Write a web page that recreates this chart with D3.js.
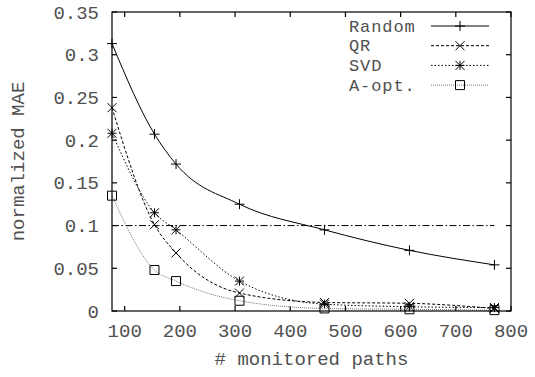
<!DOCTYPE html>
<html>
<head>
<meta charset="utf-8">
<script src="https://cdn.jsdelivr.net/npm/d3@7"></script>
<style>
body { margin: 0; background: #fff; }
text { font-family: "Courier New", "Liberation Mono", monospace; fill: #505050; }
</style>
</head>
<body>
<div id="graph1"></div>
<script>
// data
var paths = [77, 154, 193, 308, 462, 616, 770];
var randomMAE = [0.313, 0.207, 0.172, 0.125, 0.095, 0.071, 0.054];
var qrMAE = [0.238, 0.101, 0.068, 0.021, 0.010, 0.009, 0.003];
var svdMAE = [0.208, 0.115, 0.095, 0.035, 0.008, 0.005, 0.004];
var aoptMAE = [0.135, 0.048, 0.035, 0.012, 0.003, 0.002, 0.001];
var seriesNames = ["Random", "QR", "SVD", "A-opt."];
var xTicks = [100, 200, 300, 400, 500, 600, 700, 800];
var yTicks = [0, 0.05, 0.1, 0.15, 0.2, 0.25, 0.3, 0.35];
var refLineX = [77, 770];
var refLineY = 0.1;

// set the dimensions and margins of the graph
var margin = {top: 12, right: 24, bottom: 66, left: 112},
    width = 535 - margin.left - margin.right,
    height = 377 - margin.top - margin.bottom;

var x = d3.scaleLinear().domain([77, 800]).range([0, width]);
var y = d3.scaleLinear().domain([0, 0.35]).range([height, 0]);

var svg = d3.select("#graph1").append("svg")
    .attr("width", 535)
    .attr("height", 377)
    .append("g")
    .attr("transform", "translate(" + margin.left + "," + margin.top + ")");

var tickLen = 5;

// ticks, mirrored on all four sides (gnuplot style)
svg.selectAll(".xtb").data(xTicks).enter().append("line")
    .attr("x1", function (d) { return x(d); }).attr("x2", function (d) { return x(d); })
    .attr("y1", height).attr("y2", height - tickLen)
    .attr("stroke", "#000").attr("stroke-width", 1.2);
svg.selectAll(".xtt").data(xTicks).enter().append("line")
    .attr("x1", function (d) { return x(d); }).attr("x2", function (d) { return x(d); })
    .attr("y1", 0).attr("y2", tickLen)
    .attr("stroke", "#000").attr("stroke-width", 1.2);
svg.selectAll(".ytl").data(yTicks).enter().append("line")
    .attr("x1", 0).attr("x2", tickLen)
    .attr("y1", function (d) { return y(d); }).attr("y2", function (d) { return y(d); })
    .attr("stroke", "#000").attr("stroke-width", 1.2);
svg.selectAll(".ytr").data(yTicks).enter().append("line")
    .attr("x1", width).attr("x2", width - tickLen)
    .attr("y1", function (d) { return y(d); }).attr("y2", function (d) { return y(d); })
    .attr("stroke", "#000").attr("stroke-width", 1.2);

// tick labels
svg.selectAll(".xl").data(xTicks).enter().append("text")
    .attr("x", function (d) { return x(d); })
    .attr("y", height + 26)
    .attr("text-anchor", "middle")
    .style("font-size", "19px")
    .text(function (d) { return d; });
svg.selectAll(".yl").data(yTicks).enter().append("text")
    .attr("x", -13)
    .attr("y", function (d) { return y(d) + 6.5; })
    .attr("text-anchor", "end")
    .style("font-size", "19px")
    .text(function (d) { return d; });

// axis titles
svg.append("text")
    .attr("x", x(77) + width / 2)
    .attr("y", height + 54)
    .attr("text-anchor", "middle")
    .style("font-size", "19px")
    .text("# monitored paths");
svg.append("text")
    .attr("transform", "translate(" + (24 - margin.left) + "," + (height / 2) + ") rotate(-90)")
    .attr("text-anchor", "middle")
    .style("font-size", "19px")
    .text("normalized MAE");

// 0.1 reference line
svg.append("line")
    .attr("x1", x(refLineX[0])).attr("x2", x(refLineX[1]))
    .attr("y1", y(refLineY)).attr("y2", y(refLineY))
    .attr("stroke", "#000").attr("stroke-width", 1)
    .attr("stroke-dasharray", "7,2.5,1.5,2.5");

// series
var series = [
    {name: seriesNames[0], values: randomMAE, dash: null, color: "#000", marker: "plus"},
    {name: seriesNames[1], values: qrMAE, dash: "3,2", color: "#000", marker: "cross"},
    {name: seriesNames[2], values: svdMAE, dash: "1.5,2", color: "#000", marker: "star"},
    {name: seriesNames[3], values: aoptMAE, dash: "1,1", color: "#777", marker: "box"}
];

var line = d3.line()
    .x(function (d) { return x(d[0]); })
    .y(function (d) { return y(d[1]); })
    .curve(d3.curveMonotoneX);

function markerPath(type, s) {
    var p = d3.path();
    if (type === "plus" || type === "star") {
        p.moveTo(-s, 0); p.lineTo(s, 0);
        p.moveTo(0, -s); p.lineTo(0, s);
    }
    if (type === "cross" || type === "star") {
        p.moveTo(-s, -s); p.lineTo(s, s);
        p.moveTo(-s, s); p.lineTo(s, -s);
    }
    if (type === "box") {
        p.rect(-s, -s, 2 * s, 2 * s);
    }
    return p.toString();
}

var msize = {plus: 5, cross: 4.5, star: 4.5, box: 4.5};

series.forEach(function (s) {
    var pts = paths.map(function (p, i) { return [p, s.values[i]]; });
    svg.append("path")
        .datum(pts)
        .attr("fill", "none")
        .attr("stroke", s.color)
        .attr("stroke-width", 1)
        .attr("stroke-dasharray", s.dash)
        .attr("d", line);
    svg.selectAll(null).data(pts).enter().append("path")
        .attr("transform", function (d) { return "translate(" + x(d[0]) + "," + y(d[1]) + ")"; })
        .attr("d", markerPath(s.marker, msize[s.marker]))
        .attr("fill", "none")
        .attr("stroke", "#000")
        .attr("stroke-width", 1);
});

// frame
svg.append("rect")
    .attr("width", width).attr("height", height)
    .attr("fill", "none").attr("stroke", "#000").attr("stroke-width", 1.2);

// legend
var legend = svg.selectAll(".legend").data(series).enter().append("g")
    .attr("transform", function (d, i) { return "translate(0," + (14 + i * 19.7) + ")"; });
legend.append("text")
    .attr("x", 237)
    .attr("y", 5.5)
    .style("font-size", "17px")
    .style("letter-spacing", "0.9px")
    .text(function (d) { return d.name; });
legend.append("line")
    .attr("x1", 319).attr("x2", 377)
    .attr("stroke", function (d) { return d.color; })
    .attr("stroke-width", 1)
    .attr("stroke-dasharray", function (d) { return d.dash; });
legend.append("path")
    .attr("transform", "translate(348,0)")
    .attr("d", function (d) { return markerPath(d.marker, msize[d.marker]); })
    .attr("fill", "none")
    .attr("stroke", "#000")
    .attr("stroke-width", 1);
</script>
</body>
</html>
